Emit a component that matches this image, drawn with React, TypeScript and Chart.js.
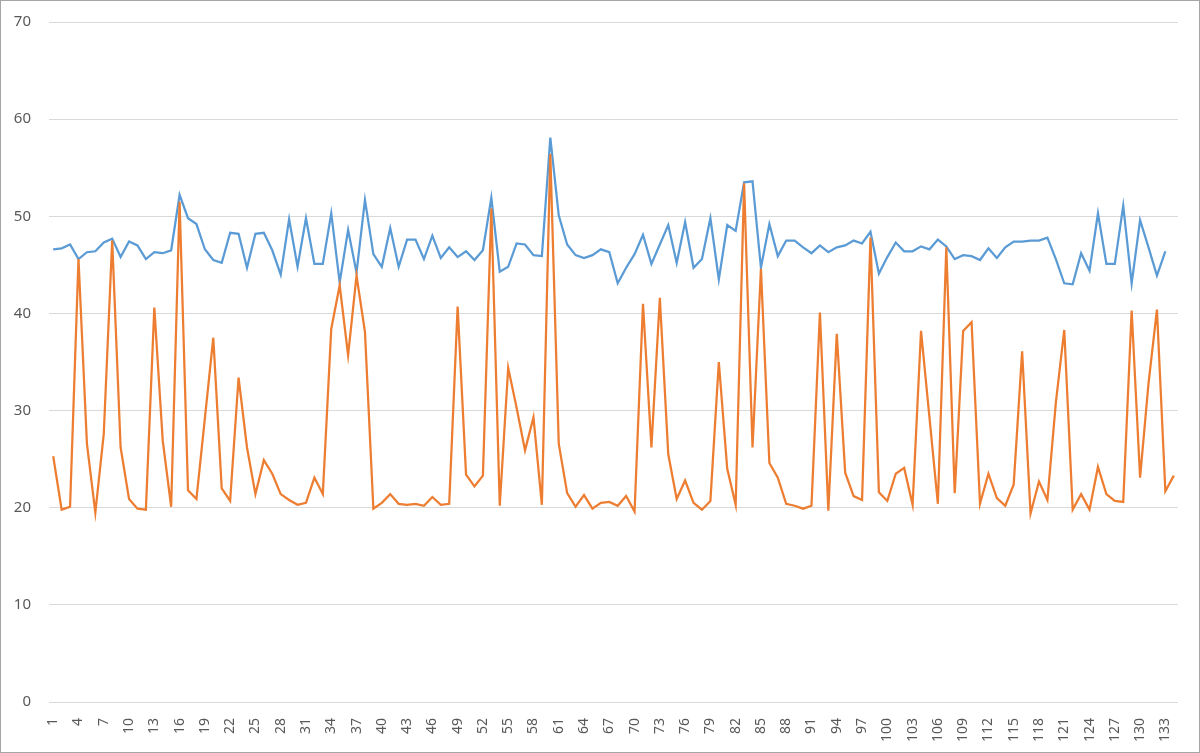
import { useEffect, useRef } from "react";
import { Chart, registerables } from "chart.js";

Chart.register(...registerables);

// x categories 1..134
const categories: string[] = Array.from({ length: 134 }, (_, i) => String(i + 1));

const blueValues: (number | null)[] = [
  46.6, 46.7, 47.1, 45.6, 46.3, 46.4, 47.3, 47.7, 45.8, 47.4,
  47.0, 45.6, 46.3, 46.2, 46.5, 52.2, 49.8, 49.2, 46.6, 45.5,
  45.2, 48.3, 48.2, 44.7, 48.2, 48.3, 46.5, 44.0, 49.7, 44.8,
  49.8, 45.1, 45.1, 50.3, 43.2, 48.6, 44.2, 51.7, 46.1, 44.8,
  48.8, 44.8, 47.6, 47.6, 45.6, 48.0, 45.7, 46.8, 45.8, 46.4,
  45.5, 46.5, 51.9, 44.3, 44.8, 47.2, 47.1, 46.0, 45.9, 58.1,
  50.1, 47.1, 46.0, 45.7, 46.0, 46.6, 46.3, 43.1, 44.7, 46.1,
  48.1, 45.1, 47.1, 49.1, 45.2, 49.4, 44.7, 45.6, 49.8, 43.5,
  49.1, 48.5, 53.5, 53.6, 44.7, 49.2, 45.9, 47.5, 47.5, 46.8,
  46.2, 47.0, 46.3, 46.8, 47.0, 47.5, 47.2, 48.4, 44.1, 45.8,
  47.3, 46.4, 46.4, 46.9, 46.6, 47.6, 46.9, 45.6, 46.0, 45.9,
  45.5, 46.7, 45.7, 46.8, 47.4, 47.4, 47.5, 47.5, 47.8, 45.6,
  43.1, 43.0, 46.2, 44.4, 50.3, 45.1, 45.1, 51.1, 43.1, 49.6,
  46.8, 43.9, 46.4, null,
];

const orangeValues: number[] = [
  25.3, 19.8, 20.1, 45.6, 26.6, 19.5, 27.6, 47.5, 26.2, 20.9,
  19.9, 19.8, 40.6, 26.9, 20.1, 51.5, 21.8, 20.9, 29.2, 37.5,
  22.0, 20.7, 33.4, 26.2, 21.4, 24.9, 23.5, 21.4, 20.8, 20.3,
  20.5, 23.1, 21.4, 38.4, 42.9, 35.7, 43.9, 38.1, 19.9, 20.5,
  21.4, 20.4, 20.3, 20.4, 20.2, 21.1, 20.3, 20.4, 40.7, 23.4,
  22.2, 23.3, 50.8, 20.2, 34.4, 30.3, 25.9, 29.3, 20.3, 56.4,
  26.6, 21.5, 20.1, 21.3, 19.9, 20.5, 20.6, 20.2, 21.2, 19.6,
  41.0, 26.2, 41.6, 25.5, 20.9, 22.8, 20.5, 19.8, 20.7, 35.0,
  24.0, 20.3, 53.4, 26.2, 44.6, 24.6, 23.1, 20.4, 20.2, 19.9,
  20.2, 40.1, 19.7, 37.9, 23.6, 21.2, 20.8, 47.8, 21.6, 20.7,
  23.5, 24.1, 20.3, 38.2, 29.3, 20.4, 46.8, 21.5, 38.2, 39.1,
  20.4, 23.5, 21.0, 20.2, 22.4, 36.1, 19.4, 22.7, 20.8, 30.8,
  38.3, 19.8, 21.4, 19.8, 24.2, 21.4, 20.7, 20.6, 40.3, 23.1,
  32.8, 40.4, 21.7, 23.3,
];

const yMin = 0;
const yMax = 70;
const yStep = 10;

export default function App() {
  const canvasRef = useRef<HTMLCanvasElement | null>(null);

  useEffect(() => {
    const canvas = canvasRef.current;
    if (!canvas) return;

    const chart = new Chart(canvas, {
      type: "line",
      data: {
        labels: categories,
        datasets: [
          {
            label: "Series 1",
            data: blueValues,
            borderColor: "#5B9BD5",
            borderWidth: 2.25,
            pointRadius: 0,
            tension: 0,
            order: 1,
          },
          {
            label: "Series 2",
            data: orangeValues,
            borderColor: "#ED7D31",
            borderWidth: 2.25,
            pointRadius: 0,
            tension: 0,
            order: 0,
          },
        ],
      },
      options: {
        responsive: true,
        maintainAspectRatio: false,
        animation: false,
        layout: { padding: { left: 8, top: 21, right: 21, bottom: 0 } },
        plugins: {
          legend: { display: false },
          tooltip: { enabled: false },
        },
        scales: {
          x: {
            offset: true,
            grid: { display: false },
            border: { display: false },
            ticks: {
              autoSkip: false,
              minRotation: 90,
              maxRotation: 90,
              padding: 8,
              color: "#595959",
              font: { size: 14, family: "'Noto Sans', sans-serif" },
              callback: (_v, i) => (i % 3 === 0 ? categories[i] : ""),
            },
            afterFit: (s) => {
              s.height = 50;
              s.paddingLeft = 0;
              s.paddingRight = 0;
            },
          },
          y: {
            min: yMin,
            max: yMax,
            grid: { color: "#d9d9d9", lineWidth: 1, drawTicks: false },
            border: { display: false },
            ticks: {
              stepSize: yStep,
              padding: 18,
              color: "#595959",
              font: { size: 15, family: "'Noto Sans', sans-serif" },
            },
            afterFit: (s) => {
              s.width = 40;
              s.paddingTop = 0;
              s.paddingBottom = 0;
            },
          },
        },
      },
    });

    return () => {
      chart.destroy();
    };
  }, []);

  return (
    <div
      style={{
        position: "absolute",
        left: 0,
        top: 0,
        width: 1200,
        height: 753,
        boxSizing: "border-box",
        border: "1px solid #a6a6a6",
        background: "#fff",
      }}
    >
      <canvas ref={canvasRef} />
    </div>
  );
}
